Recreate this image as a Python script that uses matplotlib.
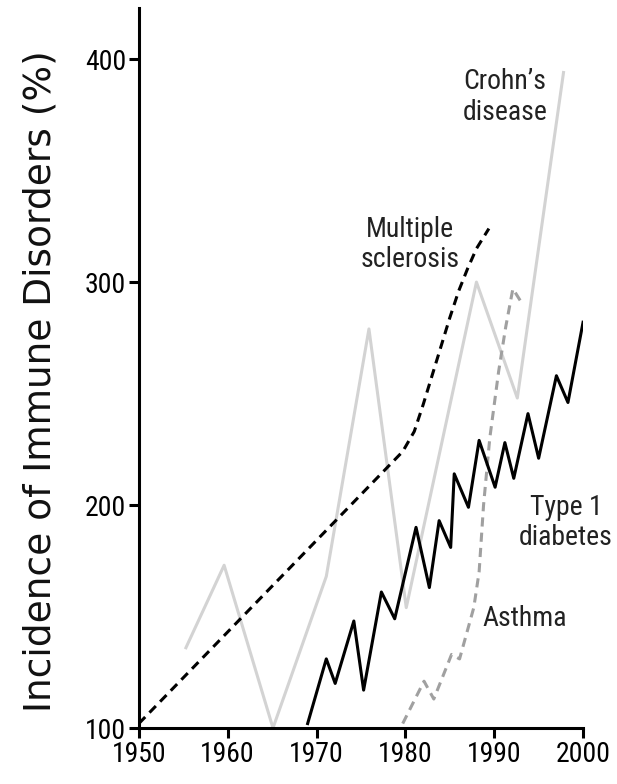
import numpy as np
import matplotlib
matplotlib.use('Agg')
import matplotlib.pyplot as plt
from matplotlib import font_manager

# data
crohn_yr = [1955.3, 1959.6, 1965.1, 1971.1, 1975.9, 1980.1, 1988.0, 1992.6, 1997.8]
crohn_val = [136, 173, 100, 168, 279, 154, 300, 248, 394]

ms_yr = [1950, 1979.7, 1981, 1982, 1983, 1984, 1985, 1986, 1987, 1988, 1989.4]
ms_val = [102, 224, 233, 245, 258, 271, 284, 296, 306, 315, 324]

t1d_yr = [1969.0, 1971.1, 1972.1, 1974.2, 1975.3, 1977.3, 1978.8, 1981.2, 1982.7,
          1983.8, 1985.1, 1985.5, 1987.1, 1988.3, 1990.1, 1991.2, 1992.2, 1993.8,
          1995.0, 1997.0, 1998.3, 2000.0]
t1d_val = [102, 131, 120, 148, 117, 161, 149, 190, 163, 193, 181, 214, 199, 229,
           208, 228, 212, 241, 221, 258, 246, 282]

asthma_yr = [1979.7, 1982.1, 1983.2, 1985.2, 1986.1, 1987.7, 1988.3, 1988.8,
             1989.5, 1990.5, 1991.3, 1992.1, 1993.2]
asthma_val = [102, 121, 113, 133, 131, 154, 170, 200, 230, 260, 280, 297, 290]

xticks = [1950, 1960, 1970, 1980, 1990, 2000]
yticks = [100, 200, 300, 400]

names = set(f.name for f in font_manager.fontManager.ttflist)
narrow = 'DejaVu Sans'
for cand in ['Roboto Condensed', 'Archivo Narrow', 'Barlow Semi Condensed']:
    if cand in names:
        narrow = cand
        break

fig = plt.figure(figsize=(6.17, 7.84), dpi=100)
ax = fig.add_axes([0.225, 0.0714, 0.72, 0.9186])

ax.plot(crohn_yr, crohn_val, color='#d3d3d3', lw=2.2)
ax.plot(asthma_yr, asthma_val, color='#a0a0a0', lw=2.2, ls=(0, (3, 2)))
ax.plot(ms_yr, ms_val, color='black', lw=2.2, ls=(0, (3, 2)))
ax.plot(t1d_yr, t1d_val, color='black', lw=2.2)

ax.set_xlim(1950, 2000)
ax.set_ylim(100, 423)
ax.spines['top'].set_visible(False)
ax.spines['right'].set_visible(False)
ax.spines['left'].set_linewidth(2.2)
ax.spines['bottom'].set_linewidth(2.2)
ax.set_xticks(xticks)
ax.set_yticks(yticks)
ax.tick_params(width=2.2, length=7, labelsize=20, pad=2)
for lab in ax.get_xticklabels() + ax.get_yticklabels():
    lab.set_fontfamily(narrow)

ax.set_ylabel('Incidence of Immune Disorders (%)', fontsize=27,
              family='DejaVu Sans', color='#111111')
ax.yaxis.set_label_coords(-0.18, 0.482)

txt = dict(fontsize=20, family=narrow, color='#222222', ha='center', va='center',
           linespacing=1.15)
ax.text(1991.2, 383, "Crohn\u2019s\ndisease", **txt)
ax.text(1980.5, 317, "Multiple\nsclerosis", **txt)
ax.text(1998.1, 192, "Type 1\ndiabetes", **txt)
ax.text(1993.4, 149, "Asthma", **txt)

plt.savefig('out.png', dpi=100)
